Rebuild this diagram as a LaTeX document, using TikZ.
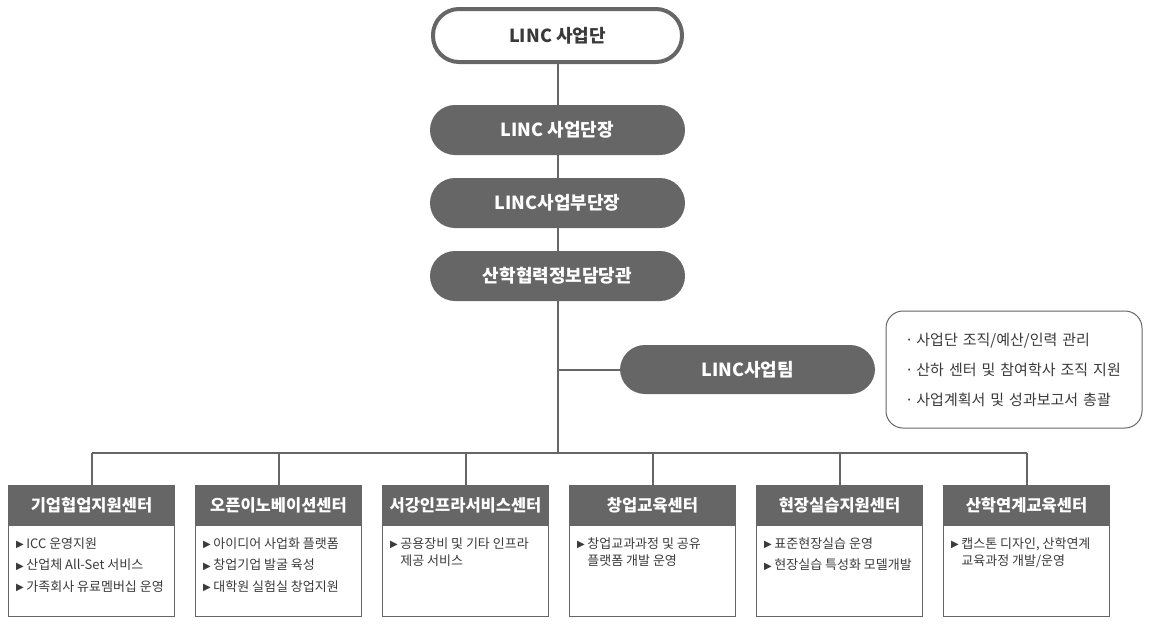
\documentclass[tikz,border=0pt]{standalone}
\usepackage{fontspec}
\setmainfont{Noto Sans CJK KR}
\newfontfamily\symfont{DejaVu Sans}
\usetikzlibrary{calc}
\definecolor{boxgray}{HTML}{666666}
\definecolor{txtgray}{HTML}{3A3A3A}
\def\tri{{\symfont\fontsize{10}{10}\selectfont\raisebox{0.6pt}{▶}}\hspace{2.5pt}}
\def\trispace{\hphantom{\tri}}
\tikzset{
  link/.style={draw=boxgray, line width=2pt},
  pill/.style={rounded corners=25pt, fill=boxgray, text=white, inner sep=0pt,
    minimum width=255pt, minimum height=50pt, font=\bfseries\fontsize{18}{20}\selectfont},
  head/.style={fill=boxgray, text=white, inner sep=0pt, minimum width=167pt,
    minimum height=40pt, font=\bfseries\fontsize{16.5}{18}\selectfont},
  body/.style={draw=boxgray, line width=1pt, minimum width=166pt, minimum height=91pt,
    anchor=north, inner sep=0pt},
  items/.style={anchor=north west, inner sep=0pt, align=left, text=txtgray,
    font=\fontsize{13}{21.5}\selectfont},
}
\begin{document}
\begin{tikzpicture}[x=1pt,y=-1pt]
			%%%%% START %%%%%
			\useasboundingbox (0,0) rectangle (1149,624);
			
			\node[draw=boxgray, line width=4pt, rounded corners=26pt, minimum width=249pt,
			  minimum height=53pt, inner sep=0pt, text=txtgray,
			  font=\bfseries\fontsize{18}{20}\selectfont] (linc) at (557.5,35.5) {LINC 사업단};
			
			\node[pill] (chief) at (557.5,130) {LINC 사업단장};
			\node[pill] (deputy) at (557.5,203) {LINC사업부단장};
			\node[pill] (officer) at (557.5,276) {산학협력정보담당관};
			\node[pill, minimum height=49pt] (team) at (747.5,369.5) {LINC사업팀};
			
			\node[draw=boxgray, line width=1pt, rounded corners=17pt, minimum width=256pt,
			  minimum height=117pt, inner sep=0pt, text width=218pt, align=left, text=txtgray,
			  font=\fontsize{15}{30}\selectfont] (duty) at (1014,369.5)
			  {·\hspace{3pt}사업단 조직/예산/인력 관리\\ ·\hspace{3pt}산하 센터 및 참여학사 조직 지원\\ ·\hspace{3pt}사업계획서 및 성과보고서 총괄};
			
			%%%%% centers %%%%%
			\node[head] (c1) at (91.5,505) {기업협업지원센터};
			\node[head] (c2) at (278.5,505) {오픈이노베이션센터};
			\node[head] (c3) at (465.5,505) {서강인프라서비스센터};
			\node[head] (c4) at (652.5,505) {창업교육센터};
			\node[head] (c5) at (839.5,505) {현장실습지원센터};
			\node[head] (c6) at (1026.5,505) {산학연계교육센터};
			
			\foreach \c in {c1,c2,c3,c4,c5,c6}
			  \node[body] (\c b) at (\c.south) {};
			
			\node[items] at ($(c1b.north west)+(8,12)$) {\tri ICC 운영지원\\ \tri 산업체 All-Set 서비스\\ \tri 가족회사 유료멤버십 운영};
			\node[items] at ($(c2b.north west)+(8,12)$) {\tri 아이디어 사업화 플랫폼\\ \tri 창업기업 발굴 육성\\ \tri 대학원 실험실 창업지원};
			\node[items, font=\fontsize{13}{17}\selectfont] at ($(c3b.north west)+(8,12)$) {\tri 공용장비 및 기타 인프라\\ \trispace 제공 서비스};
			\node[items, font=\fontsize{13}{17}\selectfont] at ($(c4b.north west)+(8,12)$) {\tri 창업교과과정 및 공유\\ \trispace 플랫폼 개발 운영};
			\node[items] at ($(c5b.north west)+(8,12)$) {\tri 표준현장실습 운영\\ \tri 현장실습 특성화 모델개발};
			\node[items, font=\fontsize{13}{17}\selectfont] at ($(c6b.north west)+(8,12)$) {\tri 캡스톤 디자인, 산학연계\\ \trispace 교육과정 개발/운영};
			
			%%%%% lines %%%%%
			\coordinate (bus) at (557.5,453);
			\draw[link] (linc) -- (chief);
			\draw[link] (chief) -- (deputy);
			\draw[link] (deputy) -- (officer);
			\draw[link] (officer) -- (bus);
			\draw[link] (team.west) -- (team.west -| officer);
			\draw[link] (c1.north |- bus) -- (c6.north |- bus);
			\foreach \c in {c1,c2,c3,c4,c5,c6}
			  \draw[link] (\c.north |- bus) -- (\c.north);
			
			%%%%% END %%%%%
\end{tikzpicture}
\end{document}
